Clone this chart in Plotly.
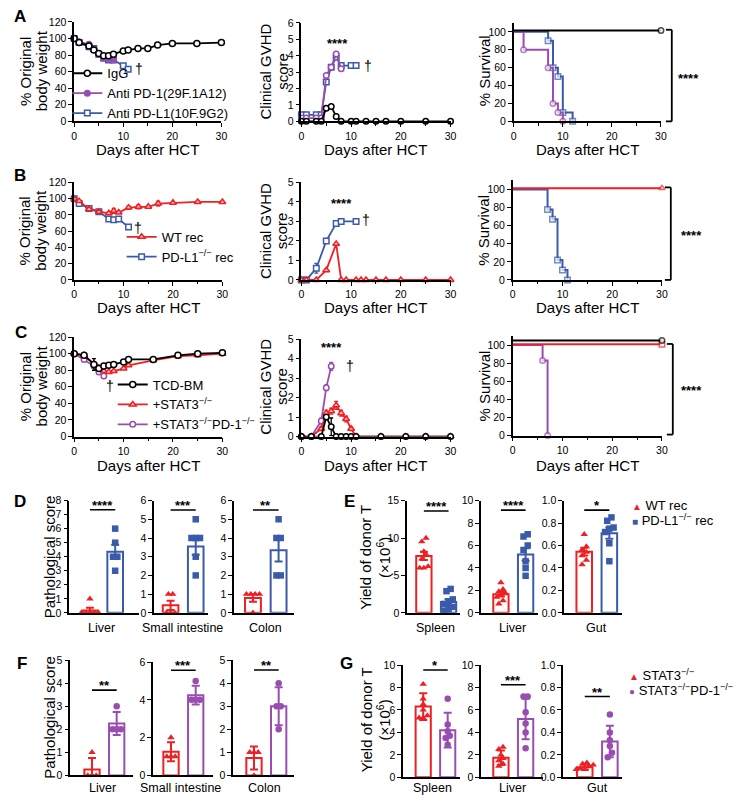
import plotly.graph_objects as go

# page body has an 8 px margin: the figure is placed at (8, 8)
OFF = 8
W, H = 742, 806
FW, FH = W - OFF, H - OFF
FONT = "Liberation Sans, Arial, Helvetica, sans-serif"
BLK, RED, BLUE, PUR = "#000000", "#EE2024", "#3A5BAA", "#9A4DB0"

# ===================== DATA =====================
# ---- Panel A ----
A_days_igg = [0, 1, 3, 4, 5, 6, 7, 8, 10, 11, 13, 15, 17, 20, 25, 30]
A_days_pd1 = [0, 1, 3, 4, 5, 6, 7, 8]
A_days_pdl1 = [0, 1, 3, 4, 5, 6, 7, 8, 10, 11]
A_bw_igg = [100, 95, 91, 86, 82, 79, 79, 81, 85, 86, 88, 88, 92, 94, 94, 95]
A_bw_pd1 = [100, 96, 93, 87, 81, 77, 75, 74]
A_bw_pdl1 = [100, 95, 90, 88, 81, 76, 74, 74, 67, 63]
A_gv_igg = [0, 0, 0, 0, 0.8, 0.9, 0.3, 0, 0, 0, 0, 0, 0, 0, 0, 0]
A_gv_pd1 = [0.2, 0.2, 0.2, 0.2, 2.8, 3.3, 4.1, 3.2]
A_gv_pdl1 = [0.4, 0.4, 0.4, 0.4, 2.4, 3.3, 3.9, 3.4, 3.4, 3.4]
A_sv_days_igg = [0, 30]
A_sv_igg = [101.5, 101.5]
A_sv_days_pd1 = [0, 2, 7, 8, 9, 10]
A_sv_pd1 = [100, 80, 60, 20, 10, 0]
A_sv_days_pdl1 = [0, 7, 8, 9, 10, 12]
A_sv_pdl1 = [100, 90, 60, 50, 10, 0]

# ---- Panel B ----
B_days_wt = [0, 1, 3, 5, 7, 8, 9, 11, 13, 15, 17, 20, 25, 30]
B_bw_wt = [100, 97, 87, 84, 82, 85, 83, 89, 90, 90, 94, 95, 96, 96]
B_bw_wt_err = [1, 1, 1, 1, 1, 3, 1, 2, 2.5, 1, 3, 1, 1, 1]
B_days_ko = [0, 1, 3, 5, 7, 8, 9, 11]
B_bw_ko = [100, 94, 88, 84, 75, 74, 75, 65]
B_gdays_wt = [0, 1, 3, 5, 7, 8, 9, 11, 12, 13, 15, 17, 20, 25, 30]
B_gv_wt = [0, 0, 0, 0.5, 1.85, 0, 0, 0, 0, 0, 0, 0, 0, 0, 0]
B_gdays_ko = [0, 1, 3, 5, 7, 8, 11]
B_gv_ko = [0, 0, 0.6, 2.0, 2.9, 3.0, 3.0]
B_gv_ko_err = [0, 0, 0.25, 0.05, 0.05, 0.05, 0.05]
B_sv_days_wt = [0, 30]
B_sv_wt = [101.5, 101.5]
B_sv_days_ko = [0, 7, 8, 9, 10, 11]
B_sv_ko = [100, 78, 67, 22, 11, 0]

# ---- Panel C ----
C_days_tcd = [0, 2, 4, 5, 6, 7, 8, 10, 11, 16, 21, 25, 30]
C_bw_tcd = [100, 98, 87, 82, 85, 86, 87, 90, 93, 93, 98, 100, 101]
C_bw_tcd_err = [0, 1, 7, 1, 1, 1, 1, 1, 1, 1, 1, 1, 1]
C_days_st = [0, 2, 4, 5, 6, 7, 8, 10, 11, 16, 21, 25, 30]
C_bw_st = [100, 98, 88, 83, 79, 78, 79, 82, 86, 92, 97, 98, 100]
C_days_sp = [0, 2, 4, 5, 6]
C_bw_sp = [100, 93, 85, 78, 73]
C_gdays_tcd = [0, 2, 4, 5, 6, 7, 8, 9, 10, 11, 16, 21, 25, 30]
C_gv_tcd = [0, 0, 0, 1.0, 0.5, 0, 0, 0, 0, 0, 0, 0, 0, 0]
C_gv_tcd_err = [0, 0, 0, 0.1, 0.45, 0, 0, 0, 0, 0, 0, 0, 0, 0]
C_gdays_st = [0, 2, 4, 5, 6, 7, 8, 9, 10, 11, 16, 21, 25, 30]
C_gv_st = [0, 0, 0.4, 1.2, 1.3, 1.6, 1.2, 0.9, 0.4, 0, 0, 0, 0, 0]
C_gv_st_err = [0, 0, 0.1, 0.15, 0.15, 0.2, 0.15, 0.15, 0.1, 0, 0, 0, 0, 0]
C_gdays_sp = [0, 2, 4, 5, 6]
C_gv_sp = [0, 0, 0.8, 2.5, 3.6]
C_gv_sp_err = [0, 0, 0.15, 0.15, 0.2]
C_sv_days_tcd = [0, 30]
C_sv_tcd = [105, 105]
C_sv_days_st = [0, 30]
C_sv_st = [101, 101]
C_sv_days_sp = [0, 6, 7]
C_sv_sp = [100, 83, 0]

# ---- Panel D (pathological score, mean +/- SEM) ----
D_cats = ["Liver", "Small intestine", "Colon"]
D_wt_pts = [[1, 0, 0, 0, 0, 0], [1, 1, 0, 0, 0], [1, 1, 1, 1, 0]]
D_ko_pts = [[6, 5, 4, 4, 3], [5, 4, 4, 4, 3, 2], [5, 4, 4, 2, 2]]
D_means = [[0.17, 4.35], [0.4, 3.55], [0.8, 3.35]]
D_errs = [[0.2, 0.5], [0.25, 0.45], [0.2, 0.6]]
D_sig = [7.35, 5.5, 5.5]
D_stars = ["****", "***", "**"]

# ---- Panel E (yield of donor T, mean +/- SEM) ----
E_cats = ["Spleen", "Liver", "Gut"]
E_wt_pts = [[10, 9.5, 8.2, 7.8, 7.2, 6.2, 6.0, 6.0],
            [2.7, 2.1, 1.9, 1.8, 1.6, 1.4, 1.1, 0.8],
            [0.70, 0.59, 0.56, 0.54, 0.51, 0.47, 0.43]]
E_ko_pts = [[3.2, 2.9, 1.8, 1.4, 1.2, 0.8, 0.5, 0.3],
            [7.0, 6.8, 6.0, 5.6, 4.6, 4.0, 3.3],
            [0.85, 0.82, 0.76, 0.75, 0.72, 0.62, 0.46]]
E_means = [[7.6, 1.45], [1.65, 5.2], [0.545, 0.71]]
E_errs = [[0.55, 0.4], [0.2, 0.55], [0.035, 0.05]]
E_sig = [13.6, 9.15, 0.915]
E_stars = ["****", "****", "*"]

# ---- Panel F (pathological score, mean +/- SD) ----
F_cats = ["Liver", "Small intestine", "Colon"]
F_wt_pts = [[1, 0, 0, 0], [2, 1, 1, 1], [1, 1, 1, 0]]
F_ko_pts = [[3, 2, 2, 2], [5, 4, 4, 4], [4, 3, 3, 2]]
F_means = [[0.25, 2.25], [1.25, 4.25], [0.75, 3.0]]
F_errs = [[0.5, 0.5], [0.5, 0.5], [0.5, 0.82]]
F_sig = [3.7, 5.57, 4.57]
F_stars = ["**", "***", "**"]

# ---- Panel G (yield of donor T, mean +/- SD) ----
G_cats = ["Spleen", "Liver", "Gut"]
G_wt_pts = [[8.3, 7.0, 6.5, 6.0, 5.5, 5.3, 5.3],
            [2.7, 2.5, 2.0, 1.7, 1.5, 1.2, 1.0],
            [0.13, 0.12, 0.11, 0.10, 0.09, 0.08, 0.07]]
G_ko_pts = [[7.0, 4.7, 4.1, 3.7, 3.5, 2.9],
            [7.2, 7.2, 5.8, 4.8, 4.0, 2.6],
            [0.56, 0.40, 0.33, 0.28, 0.22, 0.18]]
G_means = [[6.3, 4.2], [1.75, 5.2], [0.09, 0.32]]
G_errs = [[1.2, 1.55], [0.65, 1.8], [0.025, 0.14]]
G_sig = [9.56, 8.25, 0.72]
G_stars = ["*", "***", "**"]

# ===================== HELPERS =====================
fig = go.Figure()
lay = dict(width=FW, height=FH, margin=dict(l=0, r=0, t=0, b=0),
           paper_bgcolor="white", plot_bgcolor="white", barmode="overlay",
           font=dict(family=FONT, color="black", size=12), showlegend=True)
annotations, shapes = [], []
AX = dict(showline=True, linecolor="black", linewidth=1.5, showgrid=False,
          zeroline=False, ticks="outside", ticklen=4, tickwidth=1.3,
          tickcolor="black", tickfont=dict(size=10.5, color="black", family=FONT),
          fixedrange=True)
n_ax = [0]


def px2x(p):
    return (p - OFF) / FW


def px2y(p):
    return 1 - (p - OFF) / FH


def new_axes(px0, px1, py0, py1, xr, yr, xkw=None, ykw=None):
    n_ax[0] += 1
    n = n_ax[0]
    sx = "" if n == 1 else str(n)
    xa = dict(AX, domain=[px2x(px0), px2x(px1)], range=xr, anchor="y" + sx)
    ya = dict(AX, domain=[px2y(py1), px2y(py0)], range=yr, anchor="x" + sx)
    xa.update(xkw or {})
    ya.update(ykw or {})
    lay["xaxis" + sx] = xa
    lay["yaxis" + sx] = ya
    return "x" + sx, "y" + sx


def mk(color, symbol, fill, size=6):
    return dict(symbol=symbol, size=size, color=fill, line=dict(color=color, width=1.5))


def add_line(xa, ya, x, y, color, marker, err=None, name=None, legend="legend",
             rank=1000, shape="linear", width=1.8):
    fig.add_trace(go.Scatter(
        x=x, y=y, mode="lines+markers",
        line=dict(color=color, width=width, shape=shape), marker=marker,
        error_y=dict(type="data", array=err if err is not None else [0] * len(y),
                     color=color, thickness=1.3, width=2, visible=err is not None),
        xaxis=xa, yaxis=ya, cliponaxis=False, name=name or "",
        showlegend=name is not None, legend=legend, legendrank=rank,
        hoverinfo="x+y"))


def add_surv(xa, ya, x, y, color, symbol, fill):
    sizes = [0] + [5.5] * (len(x) - 1)
    m = dict(symbol=symbol, size=sizes, color=fill, line=dict(color=color, width=1.5))
    add_line(xa, ya, x, y, color, m, shape="hv", width=2)


def txt(xpx, ypx, text, size=15, angle=0, bold=False, xanchor="center", color="black"):
    annotations.append(dict(xref="paper", yref="paper", x=px2x(xpx), y=px2y(ypx),
                            text=("<b>%s</b>" % text) if bold else text,
                            textangle=angle, showarrow=False, xanchor=xanchor,
                            yanchor="middle", font=dict(size=size, color=color, family=FONT)))


XMINOR = dict(dtick=5, tick0=0, ticks="outside", ticklen=2.5, tickwidth=1.2, tickcolor="black")


def line_axes(px0, px1, py0, py1, yr, dtick, title_y):
    txt((px0 + px1) / 2, title_y, "Days after HCT", 15)
    return new_axes(px0, px1, py0, py1, [0, 30], yr,
                    xkw=dict(tick0=0, dtick=10, minor=XMINOR),
                    ykw=dict(tick0=0, dtick=dtick))


def surv_axes(px0, px1, py0, py1, title_y):
    txt((px0 + px1) / 2, title_y, "Days after HCT", 15)
    return new_axes(px0, px1, py0, py1, [0, 30], [0, 110],
                    xkw=dict(tick0=0, dtick=10, minor=XMINOR),
                    ykw=dict(tickvals=[0, 20, 40, 60, 80, 100]))


def dtxt(xa, ya, x, y, text, size=13):
    annotations.append(dict(xref=xa, yref=ya, x=x, y=y, text=text, showarrow=False,
                            font=dict(size=size, color="black", family=FONT)))


def bracket(xpx, ytop, ybot, stars_x, stars_y):
    for (x0, y0, x1, y1) in [(xpx, ytop, xpx, ybot), (xpx - 6, ytop, xpx, ytop),
                             (xpx - 6, ybot, xpx, ybot)]:
        shapes.append(dict(type="line", xref="paper", yref="paper",
                           x0=px2x(x0), y0=px2y(y0), x1=px2x(x1), y1=px2y(y1),
                           line=dict(color="black", width=1.8)))
    txt(stars_x, stars_y, "****", size=13, bold=True)


def swarm(vals, tol, step):
    order = sorted(range(len(vals)), key=lambda i: vals[i])
    groups = []
    for i in order:
        if groups and abs(vals[i] - vals[groups[-1][0]]) <= tol:
            groups[-1].append(i)
        else:
            groups.append([i])
    offs = [0.0] * len(vals)
    for g in groups:
        k = len(g)
        for j, i in enumerate(g):
            offs[i] = (j - (k - 1) / 2) * step
    return offs


def bar_panel(geom, yr, ytv, yfmt, cat, label_pos, pts, means, errs, cols, syms, sig_y, stars):
    px0, px1, py0, py1, xr = geom
    xa, ya = new_axes(px0, px1, py0, py1, xr, yr,
                      xkw=dict(ticks="", showticklabels=False),
                      ykw=dict(tickvals=ytv, tickformat=yfmt))
    txt(label_pos[0], label_pos[1], cat, 12.5)
    for i in range(2):
        fig.add_trace(go.Bar(x=[i], y=[means[i]], width=0.62,
                             marker=dict(color="white", line=dict(color=cols[i], width=2)),
                             error_y=dict(type="data", array=[errs[i]], color=cols[i],
                                          thickness=2, width=4),
                             xaxis=xa, yaxis=ya, showlegend=False, hoverinfo="skip"))
    tol = yr[1] * 0.045
    for i in range(2):
        offs = swarm(pts[i], tol, 0.17)
        fig.add_trace(go.Scatter(x=[i + o for o in offs], y=pts[i], mode="markers",
                                 marker=dict(symbol=syms[i], size=6.5, color=cols[i]),
                                 cliponaxis=False, xaxis=xa, yaxis=ya, showlegend=False))
    shapes.append(dict(type="line", xref=xa, yref=ya, x0=0, x1=1, y0=sig_y, y1=sig_y,
                       line=dict(color="black", width=1.6)))
    annotations.append(dict(xref=xa, yref=ya, x=0.5, y=sig_y, text="<b>%s</b>" % stars,
                            showarrow=False, yanchor="bottom", yshift=-5,
                            font=dict(size=13, color="black", family=FONT)))


def sym_legend(xpx, ypx, glyph, color, label):
    annotations.append(dict(xref="paper", yref="paper", x=px2x(xpx), y=px2y(ypx),
                            xanchor="left", yanchor="middle", showarrow=False,
                            text="<span style='color:%s;font-size:10px'>%s</span> %s" % (color, glyph, label),
                            font=dict(size=13, color="black", family=FONT)))


# ===================== ROW A =====================
xa, ya = line_axes(72, 221, 16, 117, [0, 120], 20, 146)
add_line(xa, ya, A_days_pdl1, A_bw_pdl1, BLUE, mk(BLUE, "square", "white", 5.5),
         name="Anti PD-L1(10F.9G2)", rank=3)
add_line(xa, ya, A_days_pd1, A_bw_pd1, PUR, mk(PUR, "circle", PUR, 5.5),
         name="Anti PD-1(29F.1A12)", rank=2)
add_line(xa, ya, A_days_igg, A_bw_igg, BLK, mk(BLK, "circle", "white", 6), name="IgG", rank=1)
dtxt(xa, ya, 13.2, 63, "†", 14)

xa, ya = line_axes(302, 453, 17, 117, [0, 6], 1, 146)
add_line(xa, ya, A_days_pdl1, A_gv_pdl1, BLUE, mk(BLUE, "square", "white", 5.5))
add_line(xa, ya, A_days_pd1, A_gv_pd1, PUR, mk(PUR, "circle", "white", 5.5))
add_line(xa, ya, A_days_igg, A_gv_igg, BLK, mk(BLK, "circle", "white", 5.5))
dtxt(xa, ya, 7.2, 4.75, "<b>****</b>", 13)
dtxt(xa, ya, 13.4, 3.4, "†", 14)

xa, ya = surv_axes(517, 666, 17, 117, 146)
add_surv(xa, ya, A_sv_days_pdl1, A_sv_pdl1, BLUE, "square", "white")
add_surv(xa, ya, A_sv_days_pd1, A_sv_pd1, PUR, "circle", "white")
add_surv(xa, ya, A_sv_days_igg, A_sv_igg, BLK, "circle", "white")
bracket(677, 24, 117, 694, 73)

# ===================== ROW B =====================
xa, ya = line_axes(72, 222, 179, 278, [0, 120], 20, 306)
add_line(xa, ya, B_days_ko, B_bw_ko, BLUE, mk(BLUE, "square", "white", 5.5),
         name="PD-L1<sup>−/−</sup> rec", legend="legend2", rank=2)
add_line(xa, ya, B_days_wt, B_bw_wt, RED, mk(RED, "triangle-up", "#F9C0C0", 6),
         err=B_bw_wt_err, name="WT rec", legend="legend2", rank=1)
dtxt(xa, ya, 13.0, 64, "†", 14)

xa, ya = line_axes(302, 453, 179, 278, [0, 5], 1, 306)
add_line(xa, ya, B_gdays_ko, B_gv_ko, BLUE, mk(BLUE, "square", "white", 5.5), err=B_gv_ko_err)
add_line(xa, ya, B_gdays_wt, B_gv_wt, RED, mk(RED, "triangle-up", "#F9C0C0", 6))
dtxt(xa, ya, 8.1, 3.9, "<b>****</b>", 13)
dtxt(xa, ya, 12.9, 3.05, "†", 14)

xa, ya = surv_axes(516, 667, 177, 278, 306)
add_surv(xa, ya, B_sv_days_ko, B_sv_ko, BLUE, "square", "white")
add_surv(xa, ya, B_sv_days_wt, B_sv_wt, RED, "triangle-up", "white")
bracket(676, 184, 278, 697, 233)

# ===================== ROW C =====================
xa, ya = line_axes(72, 222, 336, 437, [0, 120], 20, 466)
add_line(xa, ya, C_days_sp, C_bw_sp, PUR, mk(PUR, "circle", "white", 5.5),
         name="+STAT3<sup>−/−</sup>PD-1<sup>−/−</sup>", legend="legend3", rank=3)
add_line(xa, ya, C_days_st, C_bw_st, RED, mk(RED, "triangle-up", "#F9C0C0", 6),
         name="+STAT3<sup>−/−</sup>", legend="legend3", rank=2)
add_line(xa, ya, C_days_tcd, C_bw_tcd, BLK, mk(BLK, "circle", "white", 6),
         err=C_bw_tcd_err, name="TCD-BM", legend="legend3", rank=1)
dtxt(xa, ya, 7.3, 61, "†", 14)

xa, ya = line_axes(302, 453, 338, 437, [0, 5], 1, 466)
add_line(xa, ya, C_gdays_sp, C_gv_sp, PUR, mk(PUR, "circle", "white", 5.5), err=C_gv_sp_err)
add_line(xa, ya, C_gdays_st, C_gv_st, RED, mk(RED, "triangle-up", "#F9C0C0", 6), err=C_gv_st_err)
add_line(xa, ya, C_gdays_tcd, C_gv_tcd, BLK, mk(BLK, "circle", "white", 5.5), err=C_gv_tcd_err)
dtxt(xa, ya, 6.1, 4.55, "<b>****</b>", 13)
dtxt(xa, ya, 9.7, 3.6, "†", 14)

xa, ya = surv_axes(516, 667, 335, 436, 466)
add_surv(xa, ya, C_sv_days_sp, C_sv_sp, PUR, "circle", "white")
add_surv(xa, ya, C_sv_days_st, C_sv_st, RED, "square", "white")
add_surv(xa, ya, C_sv_days_tcd, C_sv_tcd, BLK, "circle", "white")
bracket(678, 343, 435, 697, 390)

# ===================== D =====================
D_geom = [(67, 138, 502, 616, [-0.82, 1.96]),
          (153, 207, 502, 616, [-0.65, 1.47]),
          (234, 295, 502, 616, [-0.73, 1.62])]
D_yr = [[0, 8], [0, 6], [0, 6]]
D_lab = [(100, 631), (182, 631), (266, 631)]
for k in range(3):
    bar_panel(D_geom[k], D_yr[k], list(range(0, D_yr[k][1] + 1)), "d", D_cats[k], D_lab[k],
              [D_wt_pts[k], D_ko_pts[k]], D_means[k], D_errs[k], [RED, BLUE],
              ["triangle-up", "square"], D_sig[k], D_stars[k])

# ===================== E =====================
E_geom = [(409, 463, 502, 616, [-0.68, 1.48]),
          (484, 542, 502, 616, [-0.8, 1.52]),
          (568, 627, 502, 616, [-0.8, 1.52])]
E_yr = [[0, 15], [0, 10], [0, 1.0]]
E_tv = [[0, 5, 10, 15], [0, 2, 4, 6, 8, 10], [0, 0.2, 0.4, 0.6, 0.8, 1.0]]
E_fmt = ["d", "d", ".1f"]
E_lab = [(438, 631), (516, 631), (601, 631)]
for k in range(3):
    bar_panel(E_geom[k], E_yr[k], E_tv[k], E_fmt[k], E_cats[k], E_lab[k],
              [E_wt_pts[k], E_ko_pts[k]], E_means[k], E_errs[k], [RED, BLUE],
              ["triangle-up", "square"], E_sig[k], E_stars[k])
sym_legend(635, 507, "▲", RED, "WT rec")
sym_legend(635, 522, "■", BLUE, "PD-L1<sup>−/−</sup> rec")

# ===================== F =====================
F_geom = [(68, 132, 664, 781, [-0.88, 1.68]),
          (152, 213, 666, 781, [-0.72, 1.72]),
          (233, 295, 664, 781, [-0.84, 1.64])]
F_yr = [[0, 5], [0, 6], [0, 5]]
F_tv = [[0, 1, 2, 3, 4, 5], [0, 2, 4, 6], [0, 1, 2, 3, 4, 5]]
F_lab = [(101, 794), (180, 794), (265, 794)]
for k in range(3):
    bar_panel(F_geom[k], F_yr[k], F_tv[k], "d", F_cats[k], F_lab[k],
              [F_wt_pts[k], F_ko_pts[k]], F_means[k], F_errs[k], [RED, PUR],
              ["triangle-up", "circle"], F_sig[k], F_stars[k])

# ===================== G =====================
G_geom = [(405, 463, 669, 783, [-0.82, 1.52]),
          (484, 547, 669, 783, [-0.8, 1.72]),
          (567, 627, 669, 783, [-0.86, 1.5])]
G_yr = [[0, 10], [0, 10], [0, 1.0]]
G_tv = [[0, 2, 4, 6, 8, 10], [0, 2, 4, 6, 8, 10], [0, 0.2, 0.4, 0.6, 0.8, 1.0]]
G_fmt = ["d", "d", ".1f"]
G_lab = [(435, 794), (516, 794), (602, 794)]
for k in range(3):
    bar_panel(G_geom[k], G_yr[k], G_tv[k], G_fmt[k], G_cats[k], G_lab[k],
              [G_wt_pts[k], G_ko_pts[k]], G_means[k], G_errs[k], [RED, PUR],
              ["triangle-up", "circle"], G_sig[k], G_stars[k])
sym_legend(632, 679, "▲", RED, "STAT3<sup>−/−</sup>")
sym_legend(632, 694, "●", PUR, "STAT3<sup>−/−</sup>PD-1<sup>−/−</sup>")

# ===================== TEXT =====================
for yc in (66, 228, 386):
    txt(22, yc, "% Original", 15, -90)
    txt(38.5, yc, "body weight", 15, -90)
    txt(265.5, yc, "Clinical GVHD", 15, -90)
    txt(282, yc, "score", 15, -90)
    txt(487, yc, "% Survival", 15, -90)
txt(47, 559, "Pathological score", 15, -90)
txt(47, 722, "Pathological score", 15, -90)
for yc in (560, 725):
    txt(367.5, yc, "Yield of donor T", 15, -90)
    txt(385, yc, "(×10<sup>6</sup>)", 15, -90)
for L, xp, yp in [("A", 17, 11), ("B", 17, 172), ("C", 18, 331), ("D", 17, 503),
                  ("E", 351, 503), ("F", 19, 667), ("G", 348, 667)]:
    txt(xp, yp, L, 17, 0, bold=True)

LEG = dict(xanchor="left", yanchor="top", bgcolor="rgba(0,0,0,0)",
           font=dict(size=13, family=FONT, color="black"), itemwidth=30,
           tracegroupgap=0, borderwidth=0, traceorder="normal")
lay["legend"] = dict(LEG, x=px2x(65), y=px2y(53))
lay["legend2"] = dict(LEG, x=px2x(120), y=px2y(219))
lay["legend3"] = dict(LEG, x=px2x(111), y=px2y(369))

lay["annotations"] = annotations
lay["shapes"] = shapes
fig.update_layout(**lay)
fig.write_html("out.html")
